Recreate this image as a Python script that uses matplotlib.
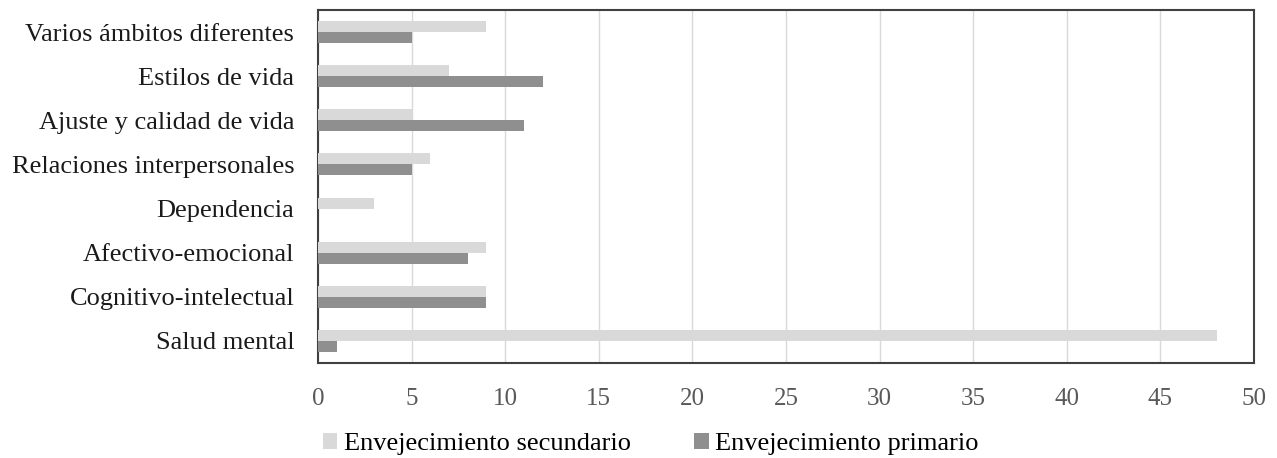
import matplotlib.pyplot as plt
import numpy as np

plt.rcParams['font.family'] = ['Liberation Serif', 'DejaVu Serif']

categories = ['Salud mental', 'Cognitivo-intelectual', 'Afectivo-emocional',
              'Dependencia', 'Relaciones interpersonales', 'Ajuste y calidad de vida',
              'Estilos de vida', 'Varios ámbitos diferentes']
secundario = [48, 9, 9, 3, 6, 5, 7, 9]
primario = [1, 9, 8, 0, 5, 11, 12, 5]
xticks = [0, 5, 10, 15, 20, 25, 30, 35, 40, 45, 50]

fig = plt.figure(figsize=(12.77, 4.58), dpi=100)
ax = fig.add_axes([0.249, 0.2074, 0.733, 0.7708])

y = np.arange(len(categories))
h = 0.25
ax.barh(y + h / 2, secundario, height=h, color='#d9d9d9', label='Envejecimiento secundario', zorder=3)
ax.barh(y - h / 2, primario, height=h, color='#8f8f8f', label='Envejecimiento primario', zorder=3)

ax.set_xlim(0, 50)
ax.set_ylim(-0.5, len(categories) - 0.5)
ax.set_xticks(xticks)
ax.set_yticks(y)
ax.set_yticklabels(categories, fontsize=19, color='#1a1a1a')
ax.tick_params(axis='x', labelsize=18, labelcolor='#595959', length=0, pad=18)
ax.tick_params(axis='y', length=0, pad=17)
ax.grid(axis='x', color='#d9d9d9', linewidth=1, zorder=0)
for s in ax.spines.values():
    s.set_color('#404040')
    s.set_linewidth(1.5)

ax.legend(loc='center left', bbox_to_anchor=(0.005, -0.23), ncol=2, frameon=False,
          fontsize=19, handlelength=0.55, handleheight=0.55, handletextpad=0.25,
          columnspacing=2.4, borderaxespad=0, borderpad=0)

plt.savefig('out.png')
